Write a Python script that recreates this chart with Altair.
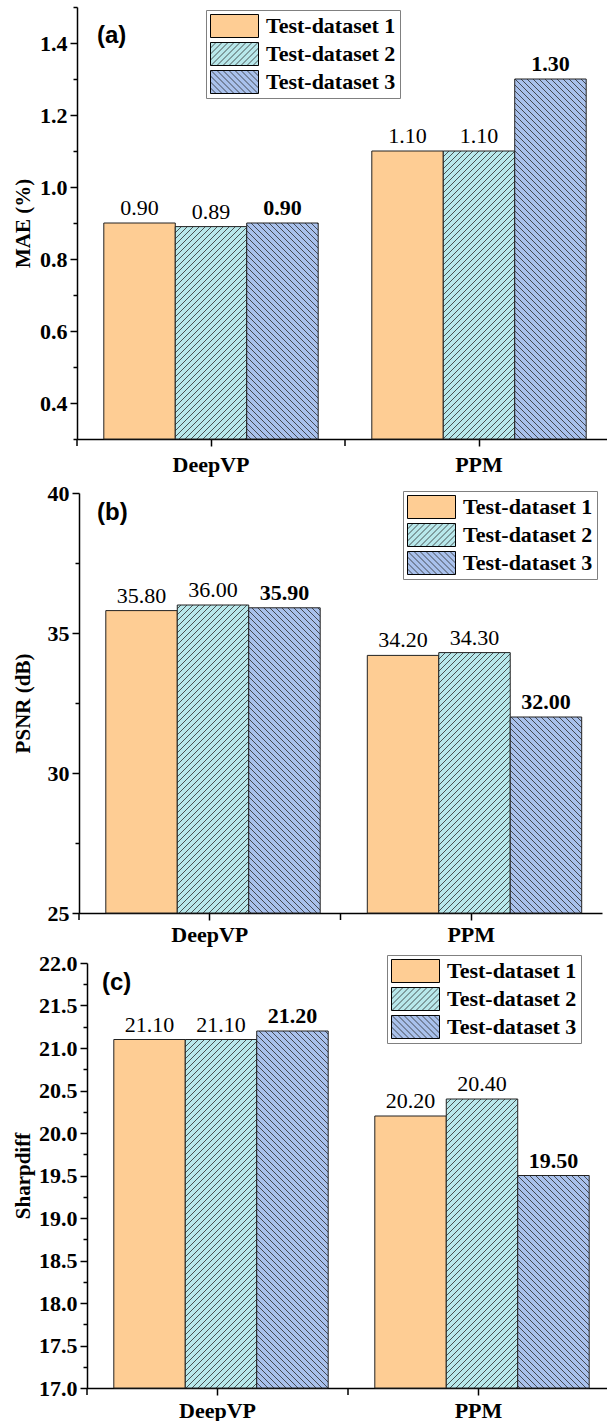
import altair as alt
import pandas as pd
import jinja2

# ---------------- data ----------------
categories = ["DeepVP", "PPM"]
datasets = ["Test-dataset 1", "Test-dataset 2", "Test-dataset 3"]

mae_ds1 = [0.90, 1.10]
mae_ds2 = [0.89, 1.10]
mae_ds3 = [0.90, 1.30]

psnr_ds1 = [35.80, 34.20]
psnr_ds2 = [36.00, 34.30]
psnr_ds3 = [35.90, 32.00]

sharp_ds1 = [21.10, 20.20]
sharp_ds2 = [21.10, 20.40]
sharp_ds3 = [21.20, 19.50]

mae_ticks = [0.3, 0.4, 0.5, 0.6, 0.7, 0.8, 0.9, 1.0, 1.1, 1.2, 1.3, 1.4, 1.5]
psnr_ticks = [25, 27.5, 30, 32.5, 35, 37.5, 40]
sharp_ticks = [17.0, 17.25, 17.5, 17.75, 18.0, 18.25, 18.5, 18.75, 19.0, 19.25,
               19.5, 19.75, 20.0, 20.25, 20.5, 20.75, 21.0, 21.25, 21.5, 21.75, 22.0]

fills = ["#FECD94", "url(#hatchFwd)", "url(#hatchBack)"]

SERIF = "Liberation Serif"
SANS = "Liberation Sans"
TICK_FS = 22
TITLE_FS = 21
VALUE_FS = 22
LEGEND_FS = 22


def make_df(v1, v2, v3):
    rows = []
    for ds, vals in zip(datasets, [v1, v2, v3]):
        for cat, v in zip(categories, vals):
            rows.append({"method": cat, "dataset": ds, "value": v})
    return pd.DataFrame(rows)


def panel(df, ytitle, domain, ticks, major_test, tick_fmt, shift, plot_w, height,
          title_x, legend_x, legend_y, tag, tag_x, tag_y, xlabel_pad):
    # shift: how far (px) this panel's axes sit to the right of the shared left edge
    width = shift + plot_w
    base = alt.Chart(df)
    x_axis = alt.Axis(title=None, labelFont=SERIF, labelFontWeight="bold",
                      labelFontSize=TICK_FS, labelColor="black", labelAngle=0,
                      labelPadding=xlabel_pad, tickSize=7, tickWidth=1.5,
                      tickColor="black", domainColor="black", domainWidth=1.5,
                      grid=False)
    x = alt.X("method:N", sort=categories,
              scale=alt.Scale(paddingInner=0, paddingOuter=0, range=[shift, width]),
              axis=x_axis)
    xo = alt.XOffset("dataset:N", sort=datasets,
                     scale=alt.Scale(paddingInner=0, paddingOuter=0.375))
    y_axis = alt.Axis(
        title=ytitle, values=ticks, offset=-shift,
        labelExpr=f"({major_test}) ? format(datum.value, '{tick_fmt}') : ''",
        labelFontSize={"condition": {"test": major_test, "value": TICK_FS}, "value": 0},
        labelBaseline={"condition": {"test": major_test, "value": "middle"}, "value": "top"},
        tickSize={"condition": {"test": major_test, "value": 7}, "value": 4},
        tickWidth=1.5, tickColor="black", domainColor="black", domainWidth=1.5,
        labelOverlap=False, labelFont=SERIF, labelFontWeight="bold",
        labelColor="black", labelPadding=3,
        titleFont=SERIF, titleFontWeight="bold", titleFontSize=TITLE_FS,
        titleColor="black", titleX=title_x, titleBaseline="middle", grid=False)
    y = alt.Y("value:Q", scale=alt.Scale(domain=domain, nice=False, zero=False),
              axis=y_axis)

    legend = alt.Legend(
        title=None, orient="none", legendX=legend_x, legendY=legend_y,
        symbolType="M-1,-0.48H1V0.48H-1Z", symbolSize=2304,
        symbolStrokeColor="black", symbolStrokeWidth=1, symbolOpacity=1,
        clipHeight=24, rowPadding=4, labelOffset=7, labelFont=SERIF,
        labelFontWeight="bold", labelFontSize=LEGEND_FS, labelColor="black",
        labelLimit=0, padding=4, strokeColor="#808080", fillColor="white")

    bars = base.mark_bar(stroke="#222222", strokeWidth=1).encode(
        x=x, xOffset=xo, y=y, y2=alt.Y2(datum=domain[0]),
        fill=alt.Fill("dataset:N", sort=datasets,
                      scale=alt.Scale(domain=datasets, range=fills),
                      legend=legend))

    lab_norm = base.transform_filter(alt.datum.dataset != datasets[2]).mark_text(
        baseline="bottom", dy=-3, font=SERIF, fontSize=VALUE_FS, color="black").encode(
        x=x, xOffset=xo, y=y, text=alt.Text("value:Q", format=".2f"))
    lab_bold = base.transform_filter(alt.datum.dataset == datasets[2]).mark_text(
        baseline="bottom", dy=-3, font=SERIF, fontSize=VALUE_FS, fontWeight="bold",
        color="black").encode(
        x=x, xOffset=xo, y=y, text=alt.Text("value:Q", format=".2f"))

    cat_df = pd.DataFrame({"method": categories})
    edge_ticks = alt.Chart(cat_df).mark_rule(color="black", strokeWidth=1.5).encode(
        x=alt.X("method:N", sort=categories, bandPosition=0, axis=x_axis),
        y=alt.value(height), y2=alt.value(height + 7))

    tag_df = pd.DataFrame({"tag": [tag]})
    tag_text = alt.Chart(tag_df).mark_text(
        font=SANS, fontWeight="bold", fontSize=24, align="left",
        baseline="middle", color="black").encode(
        x=alt.value(tag_x), y=alt.value(tag_y), text="tag:N")

    return alt.layer(bars, lab_norm, lab_bold, edge_ticks, tag_text).properties(
        width=width, height=height)


pa = panel(make_df(mae_ds1, mae_ds2, mae_ds3), "MAE (%)", [0.3, 1.5], mae_ticks,
           "round(datum.value*10) % 2 == 0", ".1f", 0, 536, 432,
           -54, 129, 3, "(a)", 20, 29, 8)
pb = panel(make_df(psnr_ds1, psnr_ds2, psnr_ds3), "PSNR (dB)", [25, 40], psnr_ticks,
           "datum.value % 5 == 0", "d", 2, 523, 420,
           -56, 326, -2, "(b)", 20, 20, 4)
pc = panel(make_df(sharp_ds1, sharp_ds2, sharp_ds3), "Sharpdiff", [17, 22], sharp_ticks,
           "round(datum.value*4) % 2 == 0", ".1f", 10, 522, 425,
           -64, 310, -8, "(c)", 25, 20, 5)

chart = alt.vconcat(pa, pb, pc, spacing=7).resolve_scale(
    fill="independent").resolve_legend(fill="independent").properties(
    padding={"left": 12, "top": 6, "right": 0, "bottom": 0},
    background="white").configure_view(stroke=None)

TEMPLATE = jinja2.Template("""<!DOCTYPE html>
<html>
<head>
<meta charset="utf-8">
<style>
  html, body { margin: 0; overflow: hidden; }
  #{{ output_div }}.vega-embed { width: 100%; display: flex; }
  #{{ output_div }} svg { flex-shrink: 0; }
</style>
<script type="text/javascript" src="{{ base_url }}/vega@{{ vega_version }}"></script>
<script type="text/javascript" src="{{ base_url }}/vega-lite@{{ vegalite_version }}"></script>
<script type="text/javascript" src="{{ base_url }}/vega-embed@{{ vegaembed_version }}"></script>
</head>
<body>
<svg width="0" height="0" style="position:absolute;left:0;top:0">
  <defs>
    <pattern id="hatchFwd" patternUnits="userSpaceOnUse" width="6" height="6">
      <rect x="0" y="0" width="6" height="6" fill="#B8E8EB"></rect>
      <path d="M-1,1 l2,-2 M0,6 l6,-6 M5,7 l2,-2" stroke="#2b2b2b" stroke-width="0.8"></path>
    </pattern>
    <pattern id="hatchBack" patternUnits="userSpaceOnUse" width="6" height="6">
      <rect x="0" y="0" width="6" height="6" fill="#A9C1EC"></rect>
      <path d="M-1,5 l2,2 M0,0 l6,6 M5,-1 l2,2" stroke="#2b2b2b" stroke-width="0.8"></path>
    </pattern>
  </defs>
</svg>
<div id="{{ output_div }}"></div>
<script type="text/javascript">
  (function() {
    var spec = {{ spec }};
    var embedOpt = {{ embed_options }};
    vegaEmbed("#{{ output_div }}", spec, embedOpt).catch(function(err) {
      document.getElementById("{{ output_div }}").innerHTML = String(err);
    });
  })();
</script>
</body>
</html>
""")

chart.save("out.html", embed_options={"renderer": "svg", "actions": False},
           template=TEMPLATE)
